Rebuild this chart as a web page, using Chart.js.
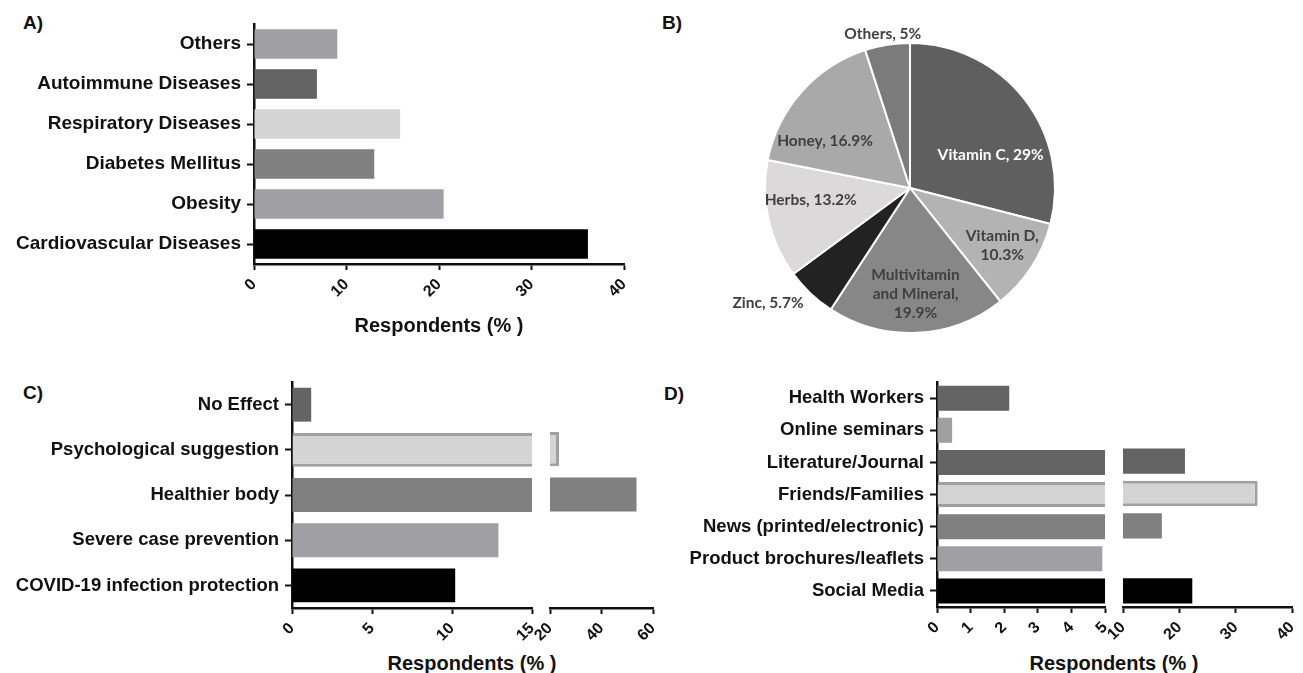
<!DOCTYPE html>
<html>
<head>
<meta charset="utf-8">
<script src="https://cdn.jsdelivr.net/npm/chart.js@4.4.1/dist/chart.umd.min.js"></script>
<style>
  body { margin:0; width:1303px; height:673px; overflow:hidden; background:#fff; position:relative;
         font-family:'Liberation Sans', Arial, sans-serif; }
  .box { position:absolute; }
  .tag { position:absolute; font-weight:bold; font-size:19px; line-height:19px; color:#111; }
  .xtitle { position:absolute; font-weight:bold; font-size:20px; line-height:22px; color:#111;
            transform:translateX(-50%); white-space:nowrap; }
</style>
</head>
<body>
<div class="tag" style="left:23px;top:13px">A)</div>
<div class="tag" style="left:662px;top:13px">B)</div>
<div class="tag" style="left:23px;top:383px">C)</div>
<div class="tag" style="left:664px;top:384px">D)</div>

<div class="box" style="left:0;top:0;width:650px;height:345px"><canvas id="chartA"></canvas></div>
<div class="box" style="left:700px;top:0;width:420px;height:376px"><canvas id="chartB"></canvas></div>

<div class="box" style="left:0;top:365px;width:552px;height:285px"><canvas id="chartC1"></canvas></div>
<div class="box" style="left:530px;top:365px;width:143px;height:285px"><canvas id="chartC2"></canvas></div>
<div class="xtitle" style="left:472px;top:652px">Respondents (% )</div>

<div class="box" style="left:650px;top:365px;width:475px;height:285px"><canvas id="chartD1"></canvas></div>
<div class="box" style="left:1103px;top:365px;width:209px;height:285px"><canvas id="chartD2"></canvas></div>
<div class="xtitle" style="left:1114px;top:652px">Respondents (% )</div>

<script>
// A) comorbidities
const diseaseLabels = ['Others', 'Autoimmune Diseases', 'Respiratory Diseases', 'Diabetes Mellitus', 'Obesity', 'Cardiovascular Diseases'];
const diseaseValues = [9.0, 6.8, 15.8, 13.0, 20.5, 36.1];

// B) supplements (%)
const supplementLabels = ['Vitamin C', 'Vitamin D', 'Multivitamin and Mineral', 'Zinc', 'Herbs', 'Honey', 'Others'];
const supplementValues = [29, 10.3, 19.9, 5.7, 13.2, 16.9, 5];

// C) reasons
const reasonLabels = ['No Effect', 'Psychological suggestion', 'Healthier body', 'Severe case prevention', 'COVID-19 infection protection'];
const reasonValues = [1.2, 23.5, 53.6, 12.9, 10.2];
const reasonTicksLow = [0, 15, 5];   // min, max, step
const reasonTicksHigh = [20, 60, 20];

// D) information sources
const sourceLabels = ['Health Workers', 'Online seminars', 'Literature/Journal', 'Friends/Families', 'News (printed/electronic)', 'Product brochures/leaflets', 'Social Media'];
const sourceValues = [2.15, 0.45, 21.0, 33.9, 16.9, 4.92, 22.3];
const sourceTicksLow = [0, 5, 1];
const sourceTicksHigh = [10, 40, 10];

const INK = '#111';
const AX = "'Liberation Sans', Arial, sans-serif";

function barChart(id, labels, values, o) {
  return new Chart(document.getElementById(id), {
    type: 'bar',
    data: {
      labels: labels,
      datasets: [{
        data: values,
        backgroundColor: o.colors,
        borderColor: o.borders || 'transparent',
        borderWidth: o.borderWidth || 0,
        borderSkipped: 'start',
        barPercentage: o.bar,
        categoryPercentage: 1,
        clip: 0
      }]
    },
    options: {
      indexAxis: 'y',
      responsive: true,
      maintainAspectRatio: false,
      animation: false,
      layout: { padding: o.pad },
      plugins: { legend: { display: false }, tooltip: { enabled: false } },
      scales: {
        x: {
          type: 'linear', min: o.ticks[0], max: o.ticks[1],
          ticks: { stepSize: o.ticks[2], minRotation: 45, maxRotation: 45, autoSkip: false, padding: 5,
                   color: INK, font: { family: AX, size: 16, weight: 'bold' } },
          grid: { drawOnChartArea: false, drawTicks: true, tickLength: 6, tickWidth: 2, tickColor: INK },
          border: { display: true, color: INK, width: 2.5 },
          title: o.title ? { display: true, text: o.title, color: INK, padding: { top: 0, bottom: 7 },
                             font: { family: AX, size: 20, weight: 'bold' } } : { display: false },
          afterFit: function (s) { s.height = o.xh; }
        },
        y: {
          display: o.yw > 0,
          ticks: { color: INK, padding: 6, font: { family: AX, size: o.ySize, weight: 'bold' } },
          grid: { offset: false, drawOnChartArea: false, drawTicks: true, tickLength: 7, tickWidth: 2, tickColor: INK },
          border: { display: true, color: INK, width: 2.5 },
          afterFit: function (s) { if (o.yw > 0) s.width = o.yw; }
        }
      }
    }
  });
}

barChart('chartA', diseaseLabels, diseaseValues, {
  colors: ['#a0a0a4', '#646464', '#d4d4d4', '#808080', '#a0a0a4', '#000000'],
  bar: 0.74, pad: { top: 24, right: 26, left: 0, bottom: 0 },
  ticks: [0, 40, 10], xh: 81, yw: 254, ySize: 19, title: 'Respondents (% )'
});

const reasonColors = ['#646464', '#d4d4d4', '#808080', '#a0a0a4', '#000000'];
const reasonBorders = ['transparent', '#a0a0a4', 'transparent', 'transparent', 'transparent'];
const reasonBorderW = [0, 3, 0, 0, 0];
barChart('chartC1', reasonLabels, reasonValues, {
  colors: reasonColors, borders: reasonBorders, borderWidth: reasonBorderW,
  bar: 0.75, pad: { top: 16, right: 20, left: 0, bottom: 0 },
  ticks: reasonTicksLow, xh: 42, yw: 292, ySize: 18.5
});
barChart('chartC2', reasonLabels, reasonValues, {
  colors: reasonColors, borders: reasonBorders, borderWidth: reasonBorderW,
  bar: 0.75, pad: { top: 16, right: 20, left: 20, bottom: 0 },
  ticks: reasonTicksHigh, xh: 42, yw: 0, ySize: 18.5
});

const sourceColors = ['#646464', '#a0a0a4', '#646464', '#d4d4d4', '#808080', '#a0a0a4', '#000000'];
const sourceBorders = ['transparent', 'transparent', 'transparent', '#a0a0a4', 'transparent', 'transparent', 'transparent'];
const sourceBorderW = [0, 0, 0, 3, 0, 0, 0];
barChart('chartD1', sourceLabels, sourceValues, {
  colors: sourceColors, borders: sourceBorders, borderWidth: sourceBorderW,
  bar: 0.78, pad: { top: 15, right: 20, left: 0, bottom: 0 },
  ticks: sourceTicksLow, xh: 43, yw: 287, ySize: 18.5
});
barChart('chartD2', sourceLabels, sourceValues, {
  colors: sourceColors, borders: sourceBorders, borderWidth: sourceBorderW,
  bar: 0.78, pad: { top: 15, right: 20, left: 20, bottom: 0 },
  ticks: sourceTicksHigh, xh: 43, yw: 0, ySize: 18.5
});

// pie labels: angle (deg, clockwise from top) and distance as part of radius
const pieColors = ['#5f5f5f', '#b3b3b3', '#878787', '#222222', '#dbd9da', '#a9a9a9', '#7b7b7b'];
const labelInk = ['#ffffff', '#404040', '#404040', '#404040', '#404040', '#404040', '#404040'];
const labelSpot = [[68, 0.60], [122, 0.75], [177, 0.73], [231, 1.26], [263, 0.69], [299, 0.67], [350, 1.08]];
const labelWrap = [0, 80, 100, 0, 0, 0, 0];

const pieLabels = {
  id: 'pieLabels',
  afterDatasetsDraw(chart) {
    const ctx = chart.ctx;
    const arcs = chart.getDatasetMeta(0).data;
    ctx.save();
    ctx.font = 'bold 15.5px Lato';
    ctx.textAlign = 'center';
    ctx.textBaseline = 'middle';
    arcs.forEach(function (arc, i) {
      const text = supplementLabels[i] + ', ' + supplementValues[i] + '%';
      // wrap into lines
      let lines = [text];
      if (labelWrap[i]) {
        lines = [];
        let cur = '';
        text.split(' ').forEach(function (w) {
          const t = cur ? cur + ' ' + w : w;
          if (cur && ctx.measureText(t).width > labelWrap[i]) { lines.push(cur); cur = w; }
          else cur = t;
        });
        lines.push(cur);
      }
      const a = (labelSpot[i][0] - 90) * Math.PI / 180;
      const x = arc.x + Math.cos(a) * arc.outerRadius * labelSpot[i][1];
      const y = arc.y + Math.sin(a) * arc.outerRadius * labelSpot[i][1];
      ctx.fillStyle = labelInk[i];
      lines.forEach(function (t, k) {
        ctx.fillText(t, x, y + (k - (lines.length - 1) / 2) * 19);
      });
    });
    ctx.restore();
  }
};

new Chart(document.getElementById('chartB'), {
  type: 'pie',
  data: {
    labels: supplementLabels,
    datasets: [{ data: supplementValues, backgroundColor: pieColors, borderColor: '#ffffff', borderWidth: 2 }]
  },
  options: {
    responsive: true,
    maintainAspectRatio: false,
    animation: false,
    layout: { padding: { left: 64, right: 64, top: 42, bottom: 42 } },
    plugins: { legend: { display: false }, tooltip: { enabled: false } }
  },
  plugins: [pieLabels]
});
</script>
</body>
</html>
